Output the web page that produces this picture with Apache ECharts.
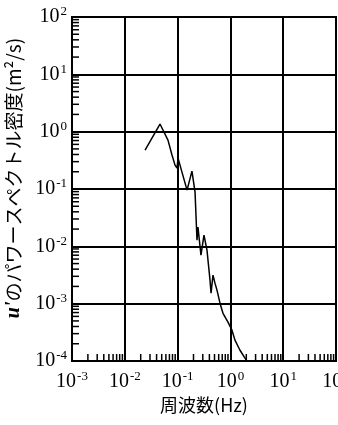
<!DOCTYPE html>
<html>
<head>
<meta charset="utf-8">
<script src="https://cdn.jsdelivr.net/npm/echarts@6/dist/echarts.min.js"></script>
<style>
  html, body { margin: 0; padding: 0; background: #fff; }
  #chart { width: 338px; height: 425px; }
</style>
</head>
<body>
<div id="chart"></div>
<script>
// spectrum of u'
const freq = [0.0242, 0.0464, 0.0657, 0.0783, 0.0893, 0.0975, 0.102, 0.121, 0.151, 0.187, 0.214, 0.233, 0.243, 0.277, 0.316, 0.360, 0.411, 0.43, 0.468, 0.51, 0.557, 0.635, 0.724, 0.90, 1.07, 1.22, 1.52, 1.89, 2.06]
const psd = [0.477, 1.36, 0.713, 0.391, 0.261, 0.232, 0.346, 0.197, 0.0957, 0.205, 0.0883, 0.0128, 0.0216, 0.0070, 0.0157, 0.0086, 0.00257, 0.00152, 0.00314, 0.00228, 0.00172, 0.00102, 0.00068, 0.000475, 0.000345, 0.000231, 0.000154, 0.000112, 0.0001]

const xTicks = [1e-3, 1e-2, 1e-1, 1e0, 1e1, 1e2]
const yTicks = [1e-4, 1e-3, 1e-2, 1e-1, 1e0, 1e1, 1e2]
const minorSteps = [2, 3, 4, 5, 6, 7, 8, 9]

const labelFont = 'Liberation Serif'
const cjkFont = 'Noto Sans CJK JP'

// minor ticks: [x, y, kind] kind 0 = bottom axis, 1 = left axis
const minorTicks = []
xTicks.slice(0, -1).forEach(d => minorSteps.forEach(m => minorTicks.push([d * m, yTicks[0], 0])))
yTicks.slice(0, -1).forEach(d => minorSteps.forEach(m => minorTicks.push([xTicks[0], d * m, 1])))

function powLabel(v) {
  const e = Math.round(Math.log10(v))
  return '{b|10}{e|' + e + '}'
}

const rich = {
  b: { fontFamily: labelFont, fontSize: 20, color: '#000' },
  e: { fontFamily: labelFont, fontSize: 13, color: '#000', padding: [0, 0, 10, 1] }
}

const chart = echarts.init(document.getElementById('chart'))
chart.setOption({
  animation: false,
  grid: {
    left: 72,
    right: 2,
    top: 17,
    bottom: 64,
    outerBoundsMode: 'none',
    show: true,
    borderColor: '#000',
    borderWidth: 2
  },
  xAxis: {
    type: 'log',
    min: xTicks[0],
    max: xTicks[xTicks.length - 1],
    logBase: 10,
    name: '周波数(Hz)',
    nameLocation: 'middle',
    nameGap: 33,
    nameTextStyle: { fontFamily: cjkFont, fontSize: 18, color: '#000' },
    axisLine: { lineStyle: { color: '#000', width: 2 } },
    axisTick: { show: false },
    axisLabel: { formatter: powLabel, rich: rich, margin: 9, hideOverlap: false },
    splitLine: { lineStyle: { color: '#000', width: 2 } }
  },
  yAxis: {
    type: 'log',
    min: yTicks[0],
    max: yTicks[yTicks.length - 1],
    logBase: 10,
    name: '{u|u\'}のパワースペクトル密度(m²/s)',
    nameLocation: 'middle',
    nameGap: 46,
    nameTextStyle: {
      fontFamily: cjkFont,
      fontSize: 19,
      color: '#000',
      padding: [0, 0, 0, 22],
      rich: {
        u: { fontFamily: labelFont, fontStyle: 'italic', fontWeight: 'bold', fontSize: 20, color: '#000' }
      }
    },
    axisLine: { lineStyle: { color: '#000', width: 2 } },
    axisTick: { show: false },
    axisLabel: { formatter: powLabel, rich: rich, margin: 5 },
    splitLine: { lineStyle: { color: '#000', width: 2 } }
  },
  series: [
    {
      type: 'line',
      data: freq.map((f, i) => [f, psd[i]]),
      showSymbol: false,
      lineStyle: { color: '#000', width: 1.5 },
      z: 3
    },
    {
      type: 'custom',
      data: minorTicks,
      encode: { x: 0, y: 1 },
      clip: false,
      silent: true,
      renderItem(params, api) {
        const p = api.coord([api.value(0), api.value(1)])
        const kind = api.value(2)
        const shape = kind === 0
          ? { x1: p[0], y1: p[1], x2: p[0], y2: p[1] - 7 }
          : { x1: p[0], y1: p[1], x2: p[0] + 7, y2: p[1] }
        return {
          type: 'line',
          shape: shape,
          style: { stroke: '#000', lineWidth: 1.5 }
        }
      }
    }
  ]
})
</script>
</body>
</html>
